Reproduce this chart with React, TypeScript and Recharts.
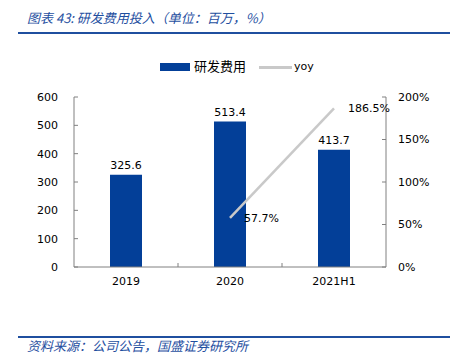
import React from 'react';
import { ComposedChart, Bar, Line, XAxis, YAxis, LabelList, Legend } from 'recharts';

const categories = ['2019', '2020', '2021H1'];
const rdExpense = [325.6, 513.4, 413.7];
const yoyGrowth: (number | null)[] = [null, 57.7, 186.5];
const leftTicks = [0, 100, 200, 300, 400, 500, 600];
const rightTicks = [0, 50, 100, 150, 200];

const seriesNames = { rd: '研发费用', yoy: 'yoy' };
const titleText = '图表 43: 研发费用投入（单位：百万，%）';
const sourceText = '资料来源：公司公告，国盛证券研究所';

const data = categories.map((c, i) => ({ name: c, rd: rdExpense[i], yoy: yoyGrowth[i] }));

const BAR_COLOR = '#033f98';
const LINE_COLOR = '#c9c9c9';
const AXIS_COLOR = '#808080';
const BLUE_TEXT = '#1f4f9f';
const FONT = '"DejaVu Sans", "Noto Sans CJK SC", sans-serif';

const LeftTick = (props: any) => {
  const { x, y, payload } = props;
  return (
    <g>
      <line x1={x + 16} x2={x + 20} y1={y} y2={y} stroke={AXIS_COLOR} />
      <text x={x} y={y} dy="0.36em" textAnchor="end" fontSize={11} fill="#000" fontFamily={FONT}>
        {payload.value}
      </text>
    </g>
  );
};

const RightTick = (props: any) => {
  const { x, y, payload } = props;
  return (
    <g>
      <line x1={x - 12} x2={x - 16} y1={y} y2={y} stroke={AXIS_COLOR} />
      <text x={x} y={y} dy="0.36em" textAnchor="start" fontSize={11} fill="#000" fontFamily={FONT}>
        {`${payload.value}%`}
      </text>
    </g>
  );
};

const BottomTick = (props: any) => {
  const { x, y, payload, index, visibleTicksCount, width } = props;
  const band = (width || 312) / (visibleTicksCount || 3);
  const axisY = y - 10;
  return (
    <g>
      {index < (visibleTicksCount || 3) - 1 && (
        <line x1={x + band / 2} x2={x + band / 2} y1={axisY} y2={axisY - 4} stroke={AXIS_COLOR} />
      )}
      <text x={x} y={y} dy="0.75em" textAnchor="middle" fontSize={11} fill="#000" fontFamily={FONT}>
        {payload.value}
      </text>
    </g>
  );
};

const YoyLabel = (props: any) => {
  const { x, y, value } = props;
  if (value === null || value === undefined) return null;
  return (
    <text x={x + 14} y={y} dy="0.36em" textAnchor="start" fontSize={11} fill="#000" fontFamily={FONT}>
      {`${value}%`}
    </text>
  );
};

const renderLegend = () => (
  <div style={{ display: 'flex', alignItems: 'center', fontFamily: FONT, color: '#000' }}>
    <div style={{ width: 30, height: 8, background: BAR_COLOR }} />
    <span style={{ fontSize: 13, marginLeft: 4, lineHeight: '16px' }}>{seriesNames.rd}</span>
    <div style={{ width: 33, height: 3, background: LINE_COLOR, marginLeft: 13 }} />
    <span style={{ fontSize: 11, marginLeft: 2, lineHeight: '16px' }}>{seriesNames.yoy}</span>
  </div>
);

export default function App() {
  return (
    <div style={{ position: 'absolute', left: 0, top: 0, width: 450, height: 364, background: '#fff', overflow: 'hidden' }}>
      <div
        style={{
          position: 'absolute', left: 27, top: 9, fontSize: 13, fontStyle: 'italic', color: BLUE_TEXT,
          fontFamily: '"Noto Sans CJK SC", sans-serif', lineHeight: '18px', whiteSpace: 'nowrap',
        }}
      >
        {titleText}
      </div>
      <div style={{ position: 'absolute', left: 18, top: 32, width: 432, height: 2, background: BLUE_TEXT }} />
      <div style={{ position: 'absolute', left: 0, top: 0 }}>
        <ComposedChart width={450} height={364} data={data} margin={{ top: 97, right: 4, bottom: 67, left: 14 }}>
          <XAxis
            dataKey="name"
            height={30}
            tickSize={0}
            tickMargin={10}
            axisLine={{ stroke: AXIS_COLOR }}
            tickLine={false}
            tick={<BottomTick />}
            interval={0}
          />
          <YAxis
            yAxisId="left"
            orientation="left"
            width={60}
            domain={[0, 600]}
            ticks={leftTicks}
            tickSize={0}
            tickMargin={16}
            tickLine={false}
            axisLine={{ stroke: AXIS_COLOR }}
            tick={<LeftTick />}
            interval={0}
          />
          <YAxis
            yAxisId="right"
            orientation="right"
            width={60}
            domain={[0, 200]}
            ticks={rightTicks}
            tickSize={0}
            tickMargin={12}
            tickLine={false}
            axisLine={{ stroke: AXIS_COLOR }}
            tick={<RightTick />}
            interval={0}
          />
          <Legend
            layout="vertical"
            align="center"
            verticalAlign="middle"
            content={renderLegend}
            wrapperStyle={{ top: 59, left: 160, width: 'auto' }}
          />
          <Bar yAxisId="left" dataKey="rd" name={seriesNames.rd} fill={BAR_COLOR} barSize={32} isAnimationActive={false}>
            <LabelList dataKey="rd" position="top" offset={6} fontSize={11} fill="#000" fontFamily={FONT} />
          </Bar>
          <Line
            yAxisId="right"
            dataKey="yoy"
            name={seriesNames.yoy}
            stroke={LINE_COLOR}
            strokeWidth={2.5}
            dot={false}
            isAnimationActive={false}
          >
            <LabelList dataKey="yoy" content={<YoyLabel />} />
          </Line>
        </ComposedChart>
      </div>
      <div style={{ position: 'absolute', left: 18, top: 336, width: 432, height: 2, background: BLUE_TEXT }} />
      <div
        style={{
          position: 'absolute', left: 27, top: 337, fontSize: 13, fontStyle: 'italic', color: BLUE_TEXT,
          fontFamily: '"Noto Sans CJK SC", sans-serif', lineHeight: '18px', whiteSpace: 'nowrap',
        }}
      >
        {sourceText}
      </div>
    </div>
  );
}
